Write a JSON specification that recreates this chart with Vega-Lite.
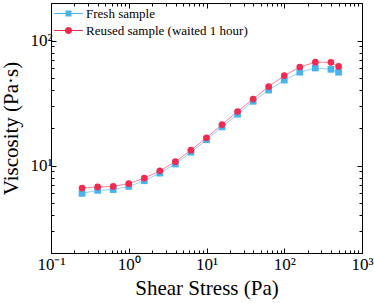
{
  "$schema": "https://vega.github.io/schema/vega-lite/v6.json",
  "width": 311,
  "height": 250,
  "autosize": "none",
  "padding": {"left": 51, "top": 3, "right": 12, "bottom": 50},
  "config": {
    "font": "Liberation Serif",
    "view": {"stroke": null},
    "axis": {"domainColor": "black", "tickColor": "black", "labelColor": "black", "titleColor": "black", "grid": false, "labelOverlap": false, "labelFlush": false, "labelBound": false, "titleFontWeight": "normal", "domainWidth": 1, "tickWidth": 1}
  },
  "data": {"values": [
    {"stress": 0.251, "viscosity": 6.0, "series": "Fresh sample"},
    {"stress": 0.398, "viscosity": 6.34, "series": "Fresh sample"},
    {"stress": 0.631, "viscosity": 6.43, "series": "Fresh sample"},
    {"stress": 1.0, "viscosity": 6.82, "series": "Fresh sample"},
    {"stress": 1.585, "viscosity": 7.57, "series": "Fresh sample"},
    {"stress": 2.512, "viscosity": 8.71, "series": "Fresh sample"},
    {"stress": 3.981, "viscosity": 10.3, "series": "Fresh sample"},
    {"stress": 6.31, "viscosity": 12.8, "series": "Fresh sample"},
    {"stress": 10.0, "viscosity": 16.1, "series": "Fresh sample"},
    {"stress": 15.85, "viscosity": 20.4, "series": "Fresh sample"},
    {"stress": 25.12, "viscosity": 25.8, "series": "Fresh sample"},
    {"stress": 39.81, "viscosity": 32.7, "series": "Fresh sample"},
    {"stress": 63.1, "viscosity": 40.2, "series": "Fresh sample"},
    {"stress": 100.0, "viscosity": 48.3, "series": "Fresh sample"},
    {"stress": 158.5, "viscosity": 55.9, "series": "Fresh sample"},
    {"stress": 251.2, "viscosity": 60.4, "series": "Fresh sample"},
    {"stress": 398.1, "viscosity": 58.9, "series": "Fresh sample"},
    {"stress": 500.0, "viscosity": 55.9, "series": "Fresh sample"},
    {"stress": 0.251, "viscosity": 6.62, "series": "Reused sample (waited 1 hour)"},
    {"stress": 0.398, "viscosity": 6.75, "series": "Reused sample (waited 1 hour)"},
    {"stress": 0.631, "viscosity": 6.82, "series": "Reused sample (waited 1 hour)"},
    {"stress": 1.0, "viscosity": 7.17, "series": "Reused sample (waited 1 hour)"},
    {"stress": 1.585, "viscosity": 7.95, "series": "Reused sample (waited 1 hour)"},
    {"stress": 2.512, "viscosity": 9.08, "series": "Reused sample (waited 1 hour)"},
    {"stress": 3.981, "viscosity": 10.76, "series": "Reused sample (waited 1 hour)"},
    {"stress": 6.31, "viscosity": 13.3, "series": "Reused sample (waited 1 hour)"},
    {"stress": 10.0, "viscosity": 16.7, "series": "Reused sample (waited 1 hour)"},
    {"stress": 15.85, "viscosity": 21.3, "series": "Reused sample (waited 1 hour)"},
    {"stress": 25.12, "viscosity": 27.1, "series": "Reused sample (waited 1 hour)"},
    {"stress": 39.81, "viscosity": 34.1, "series": "Reused sample (waited 1 hour)"},
    {"stress": 63.1, "viscosity": 42.9, "series": "Reused sample (waited 1 hour)"},
    {"stress": 100.0, "viscosity": 52.5, "series": "Reused sample (waited 1 hour)"},
    {"stress": 158.5, "viscosity": 61.5, "series": "Reused sample (waited 1 hour)"},
    {"stress": 251.2, "viscosity": 67.3, "series": "Reused sample (waited 1 hour)"},
    {"stress": 398.1, "viscosity": 67.0, "series": "Reused sample (waited 1 hour)"},
    {"stress": 500.0, "viscosity": 62.2, "series": "Reused sample (waited 1 hour)"}
  ]},
  "layer": [
    {
      "mark": {"type": "line", "strokeWidth": 1, "opacity": 0.6},
      "encoding": {
        "x": {"field": "stress", "type": "quantitative",
          "scale": {"type": "log", "domain": [0.1, 1000]},
          "axis": {"orient": "bottom", "title": "Shear Stress (Pa)", "titleFontSize": 21, "labelFontSize": 17, "labelPadding": 8, "titlePadding": 5,
            "values": [0.1, 1, 10, 100, 1000],
            "labelExpr": "datum.value==0.1?'10⁻¹':datum.value==1?'10⁰':datum.value==10?'10¹':datum.value==100?'10²':'10³'",
            "tickSize": -5}},
        "y": {"field": "viscosity", "type": "quantitative",
          "scale": {"type": "log", "domain": [2, 200]},
          "axis": {"orient": "left", "title": "Viscosity (Pa·s)", "titleFontSize": 21, "labelFontSize": 17, "labelPadding": 4, "titlePadding": 8,
            "values": [10, 100],
            "labelExpr": "datum.value==10?'10¹':'10²'",
            "tickSize": -5}},
        "color": {"field": "series", "type": "nominal",
          "scale": {"domain": ["Fresh sample", "Reused sample (waited 1 hour)"], "range": ["#47b4f0", "#f22a50"]},
          "legend": null}
      }
    },
    {
      "mark": {"type": "point", "filled": true, "opacity": 1, "size": 45},
      "encoding": {
        "x": {"field": "stress", "type": "quantitative",
          "scale": {"type": "log", "domain": [0.1, 1000]},
          "axis": {"orient": "bottom", "title": null, "labels": false, "domain": false,
            "values": [0.2, 0.3, 0.4, 0.5, 0.6, 0.7, 0.8, 0.9, 2, 3, 4, 5, 6, 7, 8, 9, 20, 30, 40, 50, 60, 70, 80, 90, 200, 300, 400, 500, 600, 700, 800, 900],
            "tickSize": -3}},
        "y": {"field": "viscosity", "type": "quantitative",
          "scale": {"type": "log", "domain": [2, 200]},
          "axis": {"orient": "left", "title": null, "labels": false, "domain": false,
            "values": [2, 3, 4, 5, 6, 7, 8, 9, 20, 30, 40, 50, 60, 70, 80, 90, 200],
            "tickSize": -3}},
        "color": {"field": "series", "type": "nominal",
          "scale": {"domain": ["Fresh sample", "Reused sample (waited 1 hour)"], "range": ["#47b4f0", "#f22a50"]},
          "legend": null},
        "shape": {"field": "series", "type": "nominal",
          "scale": {"domain": ["Fresh sample", "Reused sample (waited 1 hour)"], "range": ["square", "circle"]},
          "legend": null}
      }
    },
    {
      "mark": {"type": "point", "opacity": 0},
      "encoding": {
        "x": {"field": "stress", "type": "quantitative",
          "scale": {"type": "log", "domain": [0.1, 1000]},
          "axis": {"orient": "top", "title": null, "labels": false,
            "values": [0.1, 1, 10, 100, 1000],
            "tickSize": -5}},
        "y": {"field": "viscosity", "type": "quantitative",
          "scale": {"type": "log", "domain": [2, 200]},
          "axis": {"orient": "right", "title": null, "labels": false,
            "values": [10, 100],
            "tickSize": -5}},
        "fill": {"field": "series", "type": "nominal",
          "scale": {"range": ["#47b4f0", "#f22a50"]},
          "legend": {"orient": "none", "legendX": 11, "legendY": 4, "title": null, "labelFontSize": 13, "labelFont": "Liberation Serif", "labelLimit": 400, "symbolSize": 36, "labelOffset": 11, "padding": 0, "rowPadding": 3, "symbolStrokeWidth": 0, "symbolOpacity": 1,
            "encoding": {"symbols": {
              "shape": {"condition": {"test": "datum.value === 'Fresh sample'", "value": "M-4.8,-0.17L4.8,-0.17L4.8,0.17L-4.8,0.17Z M-1,-1L1,-1L1,1L-1,1Z"}, "value": "M-4.8,-0.17L4.8,-0.17L4.8,0.17L-4.8,0.17Z M-1.2,0A1.2,1.2 0 1,1 1.2,0A1.2,1.2 0 1,1 -1.2,0Z"},
              "opacity": {"value": 1},
              "fillOpacity": {"value": 1},
              "strokeWidth": {"value": 0}}}}}
      }
    },
    {
      "mark": {"type": "point", "opacity": 0},
      "encoding": {
        "x": {"field": "stress", "type": "quantitative",
          "scale": {"type": "log", "domain": [0.1, 1000]},
          "axis": {"orient": "top", "title": null, "labels": false, "domain": false,
            "values": [0.2, 0.3, 0.4, 0.5, 0.6, 0.7, 0.8, 0.9, 2, 3, 4, 5, 6, 7, 8, 9, 20, 30, 40, 50, 60, 70, 80, 90, 200, 300, 400, 500, 600, 700, 800, 900],
            "tickSize": -3}},
        "y": {"field": "viscosity", "type": "quantitative",
          "scale": {"type": "log", "domain": [2, 200]},
          "axis": {"orient": "right", "title": null, "labels": false, "domain": false,
            "values": [2, 3, 4, 5, 6, 7, 8, 9, 20, 30, 40, 50, 60, 70, 80, 90, 200],
            "tickSize": -3}}
      }
    }
  ],
  "resolve": {"axis": {"x": "independent", "y": "independent"}}
}
